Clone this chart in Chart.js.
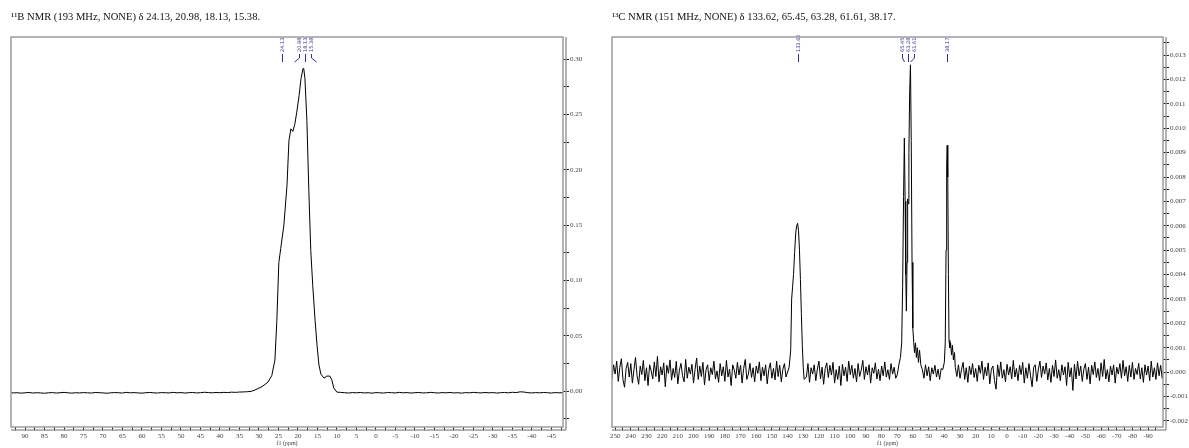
<!DOCTYPE html>
<html>
<head>
<meta charset="utf-8">
<title>Espectros RMN</title>
<script src="https://cdn.jsdelivr.net/npm/chart.js@4.4.1/dist/chart.umd.min.js"></script>
<style>
    html, body { margin: 0; padding: 0; background: #fff; }
    #contenedor { position: relative; width: 1189px; height: 448px; overflow: hidden; }
    canvas { position: absolute; top: 0; }
    #espectroBoro { left: 0; }
    #espectroCarbono { left: 594px; }
</style>
</head>
<body>
<div id="contenedor">
    <canvas id="espectroBoro" width="594" height="448"></canvas>
    <canvas id="espectroCarbono" width="595" height="448"></canvas>
</div>
<script>
// ---------- 11B ----------
const picosBoro = [[24.13], [20.98, 18.13, 15.38]]; // grupos de etiquetas
const boroInicio1 = 94; // ppm de la primera muestra, 1 ppm entre muestras
const boroLinea1 = [ // unidades de 1e-4
    -14,-17,-15,-19,-16,-13,-18,-15,-17,-20,-16,-14,-18,-15,-12,-16,-19,-15,-17,-14,
    -16,-18,-13,-15,-17,-20,-16,-14,-15,-18,-12,-16,-14,-17,-19,-15,-13,-16,-18,-14,
    -15,-17,-12,-16,-14,-18,-15,-13,-17,-15,-11,-14,-16,-13,-15,-12,-14,-10,-12,-9,
    -8,-6,-3
];
const boroPico = [ // [ppm, intensidad]
    [31.0, 0.001], [29.2, 0.004], [27.7, 0.008], [26.7, 0.014], [25.9, 0.028],
    [25.4, 0.064], [24.9, 0.116], [24.4, 0.129], [23.6, 0.150], [22.8, 0.186],
    [22.3, 0.2265], [21.8, 0.237], [21.3, 0.2347], [20.8, 0.241], [20.3, 0.252],
    [19.7, 0.267], [19.2, 0.2825], [18.7, 0.2915], [18.5, 0.2915], [18.2, 0.2825],
    [17.7, 0.2446], [17.2, 0.181], [16.7, 0.127], [16.2, 0.0957], [15.6, 0.064],
    [15.1, 0.0415], [14.6, 0.0235], [14.1, 0.0153], [13.3, 0.0117], [12.6, 0.0135],
    [11.8, 0.0135], [11.3, 0.010], [10.8, 0.0027], [10.0, -0.001]
];
const boroInicio2 = 9;
const boroLinea2 = [
    -12,-15,-18,-14,-16,-13,-17,-15,-19,-14,-16,-18,-13,-15,-17,-12,-16,-14,-18,-15,
    -13,-17,-16,-12,-15,-18,-14,-16,-13,-17,-15,-19,-14,-16,-12,-15,-17,-13,-16,-14,
    -18,-15,-13,-16,-11,-14,-7,-9,-15,-17,-14,-16,-13,-15,-18,-14,-16,-15
];

// ---------- 13C ----------
const picosCarbono = [[133.62], [65.45, 63.28, 61.61], [38.17]];
const carbonoInicioA = 253; // ruido, unidades de 1e-5
const carbonoRuidoA = [
    12,-25,30,-8,45,-38,20,55,-30,-62,15,40,-20,35,-45,10,60,-15,-50,25,
    -10,48,-35,18,-55,30,5,-28,42,-18,65,-40,22,-12,38,-60,28,-5,50,-33,
    15,-22,44,-48,8,36,-15,-40,52,-25,20,-8,32,-45,12,58,-30,25,-18,40,
    -52,10,30,-35,18,-10,45,-28,5,-42,35,-15,22,-38,48,-20,12,-55,30,8,
    -25,40,-12,28,-45,15,52,-30,-8,36,-22,18,-40,25,-5,42,-35,20,-15,30,
    -48,10,38,-25,15,-32,45,-18,28,-40,12,35,-20
];
const carbonoPico1 = [
    [139.0, 0.0002], [138.0, 0.0009], [137.4, 0.0030], [136.8, 0.0035], [136.2, 0.0040],
    [135.5, 0.0049], [134.8, 0.0057], [134.2, 0.0060], [133.6, 0.0061], [133.0, 0.0058],
    [132.4, 0.0050], [131.8, 0.0038], [131.2, 0.0024], [130.6, 0.0011], [130.0, 0.0002],
    [129.4, -0.0003]
];
const carbonoInicioB = 128;
const carbonoRuidoB = [
    -20,35,-42,18,-8,30,-35,12,45,-28,20,-50,15,38,-22,28,-12,40,-45,10,
    -30,25,-55,32,-15,20,-38,45,-10,28,-25,15,-40,35,-18,8,48,-30,22,-12,
    30,-45,18,-5,38,-28,12,-35,25,-15,42,-20,10,-30,35,-8,20,-25
];
const carbonoPico2 = [
    [70.0, -0.0001], [69.0, 0.0003], [68.0, 0.0006], [67.2, 0.0012], [66.6, 0.0035],
    [66.0, 0.0072], [65.5, 0.0096], [65.0, 0.0070], [64.6, 0.0040], [64.2, 0.0025],
    [63.8, 0.0045], [63.4, 0.0071], [63.1, 0.0069], [62.6, 0.0090], [62.1, 0.0115],
    [61.6, 0.0126], [61.1, 0.0095], [60.6, 0.0045], [60.1, 0.0018], [59.5, 0.0012],
    [59.0, 0.0008], [58.4, 0.0012], [57.8, 0.0006], [57.2, 0.0010], [56.5, 0.0004],
    [55.8, 0.0009], [55.0, 0.0003]
];
const carbonoInicioC = 54;
const carbonoRuidoC = [10,-25,30,-15,22,-35,18,-8,28,-20,12,-30,15];
const carbonoPico3 = [
    [41.0, 0.0001], [40.0, 0.0004], [39.4, 0.0012], [38.9, 0.0050], [38.5, 0.0085],
    [38.17, 0.0093], [37.8, 0.0080], [37.4, 0.0040], [37.0, 0.0013], [36.5, 0.0010],
    [36.0, 0.0012], [35.4, 0.0007], [34.8, 0.0011], [34.2, 0.0005], [33.5, 0.0008],
    [33.0, 0.0002]
];
const carbonoInicioD = 32;
const carbonoRuidoD = [
    -18,30,-25,12,40,-30,18,-42,25,-10,35,-22,15,-38,28,-5,45,-30,20,-15,
    38,-48,12,25,-35,-70,30,-18,42,-25,10,-40,32,-12,22,-28,48,-20,15,-35,
    28,-10,40,-45,18,-25,35,-15,-60,20,30,-38,12,45,-22,25,-8,38,-32,15,
    -42,28,-18,50,-25,10,-35,30,-12,22,-55,40,-20,18,-75,32,-28,45,-15,25,
    -38,12,35,-30,20,-48,28,-10,42,-22,15,-35,38,-18,52,-28,10,-40,25,-12,
    30,-45,20,-8,35,-25,48,-15,22,-38,28,-20,40,-30,15,-10,36,-28,18,-42,
    30,-12,25,-35,45,-20,18,-30,38,-15,28,-25,12
];

// convierte una lista de muestras (1 ppm de paso) en puntos {x, y}
function muestras(inicio, valores, escala) {
    return valores.map((v, i) => ({ x: inicio - i, y: v * escala }));
}
function pares(lista) {
    return lista.map(([x, y]) => ({ x: x, y: y }));
}

const puntosBoro = [
    ...muestras(boroInicio1, boroLinea1, 1e-4),
    ...pares(boroPico),
    ...muestras(boroInicio2, boroLinea2, 1e-4)
];
const puntosCarbono = [
    ...muestras(carbonoInicioA, carbonoRuidoA, 1e-5),
    ...pares(carbonoPico1),
    ...muestras(carbonoInicioB, carbonoRuidoB, 1e-5),
    ...pares(carbonoPico2),
    ...muestras(carbonoInicioC, carbonoRuidoC, 1e-5),
    ...pares(carbonoPico3),
    ...muestras(carbonoInicioD, carbonoRuidoD, 1e-5)
];

Chart.defaults.font.family = '"Liberation Serif", serif';

// Marco gris alrededor del área del gráfico, con la doble línea de los ejes
const marco = {
    id: 'marco',
    afterDraw(chart) {
        const { ctx, chartArea: a } = chart;
        ctx.save();
        ctx.strokeStyle = '#9c9c9c';
        ctx.lineWidth = 1.5;
        ctx.strokeRect(a.left, a.top, a.right - a.left, a.bottom - a.top);
        ctx.beginPath();
        ctx.moveTo(a.right + 3, a.top);
        ctx.lineTo(a.right + 3, a.bottom + 3);
        ctx.moveTo(a.left, a.bottom + 3);
        ctx.lineTo(a.right + 3, a.bottom + 3);
        ctx.stroke();
        ctx.restore();
    }
};

// Etiquetas verticales de los picos con sus líneas guía
const etiquetasPicos = {
    id: 'etiquetasPicos',
    afterDatasetsDraw(chart, args, opts) {
        const { ctx } = chart;
        const escalaX = chart.scales.x;
        ctx.save();
        ctx.strokeStyle = '#2e3192';
        ctx.fillStyle = '#2e3192';
        ctx.lineWidth = 1;
        ctx.font = '5px "DejaVu Sans"';
        ctx.textBaseline = 'middle';
        opts.grupos.forEach(grupo => {
            const px = grupo.map(v => escalaX.getPixelForValue(v));
            const centro = px.reduce((a, b) => a + b, 0) / px.length;
            grupo.forEach((v, i) => {
                const xl = Math.round(centro + (i - (grupo.length - 1) / 2) * opts.separacion) + 0.5;
                ctx.save();
                ctx.translate(xl, 52);
                ctx.rotate(-Math.PI / 2);
                ctx.fillText(v.toFixed(2), 0, 0);
                ctx.restore();
                ctx.beginPath();
                ctx.moveTo(xl, 54);
                ctx.lineTo(xl, 58);
                ctx.lineTo(Math.round(px[i]) + 0.5, 62);
                ctx.stroke();
            });
        });
        ctx.restore();
    }
};

function crearEspectro(id, puntos, cfg) {
    const ctx = document.getElementById(id).getContext('2d');
    return new Chart(ctx, {
        type: 'line',
        data: {
            datasets: [{
                data: puntos,
                borderColor: '#000',
                borderWidth: 1,
                pointRadius: 0,
                tension: 0
            }]
        },
        options: {
            responsive: false,
            animation: false,
            layout: { padding: { left: cfg.izquierda } },
            plugins: {
                legend: { display: false },
                tooltip: { enabled: false },
                title: {
                    display: true,
                    text: cfg.titulo,
                    align: 'start',
                    color: '#111',
                    font: { size: 10.6, weight: 'normal' },
                    padding: { top: 11, bottom: 13.3 }
                },
                etiquetasPicos: { grupos: cfg.picos, separacion: 6 }
            },
            scales: {
                x: {
                    type: 'linear',
                    reverse: true,
                    min: cfg.xMin,
                    max: cfg.xMax,
                    afterFit: s => { s.height = 21; },
                    border: { display: false },
                    grid: { drawOnChartArea: false, tickLength: 4, color: '#222' },
                    ticks: {
                        stepSize: cfg.xPaso / 2,
                        includeBounds: false,
                        autoSkip: false,
                        maxRotation: 0,
                        minRotation: 0,
                        padding: 1,
                        color: '#444',
                        font: { size: 7 },
                        callback: function(v) {
                            return Math.abs(v % cfg.xPaso) < 1e-6 ? String(v) : '';
                        }
                    },
                    title: {
                        display: true,
                        text: 'f1 (ppm)',
                        color: '#444',
                        font: { size: 6 },
                        padding: { top: 0, bottom: 1 }
                    }
                },
                y: {
                    position: 'right',
                    min: cfg.yMin,
                    max: cfg.yMax,
                    afterFit: s => { s.width = cfg.anchoY; },
                    border: { display: false },
                    grid: { drawOnChartArea: false, tickLength: 6, color: '#222' },
                    ticks: {
                        stepSize: cfg.yPaso / 2,
                        includeBounds: false,
                        autoSkip: false,
                        padding: 1,
                        color: '#444',
                        font: { size: 7 },
                        callback: function(v) {
                            const n = v / cfg.yPaso;
                            if (Math.abs(n - Math.round(n)) > 1e-6) return '';
                            return (Math.round(n) * cfg.yPaso).toFixed(cfg.decimales);
                        }
                    }
                }
            }
        },
        plugins: [marco, etiquetasPicos]
    });
}

crearEspectro('espectroBoro', puntosBoro, {
    titulo: '¹¹B NMR (193 MHz, NONE) δ ' + picosBoro.flat().join(', ') + '.',
    picos: picosBoro,
    izquierda: 11,
    anchoY: 31,
    xMin: -48, xMax: 93.6, xPaso: 5,
    yMin: -0.0325, yMax: 0.32, yPaso: 0.05, decimales: 2
});

crearEspectro('espectroCarbono', puntosCarbono, {
    titulo: '¹³C NMR (151 MHz, NONE) δ ' + picosCarbono.flat().join(', ') + '.',
    picos: picosCarbono,
    izquierda: 18,
    anchoY: 26,
    xMin: -99.5, xMax: 252, xPaso: 10,
    yMin: -0.00225, yMax: 0.01374, yPaso: 0.001, decimales: 3
});
</script>
</body>
</html>
